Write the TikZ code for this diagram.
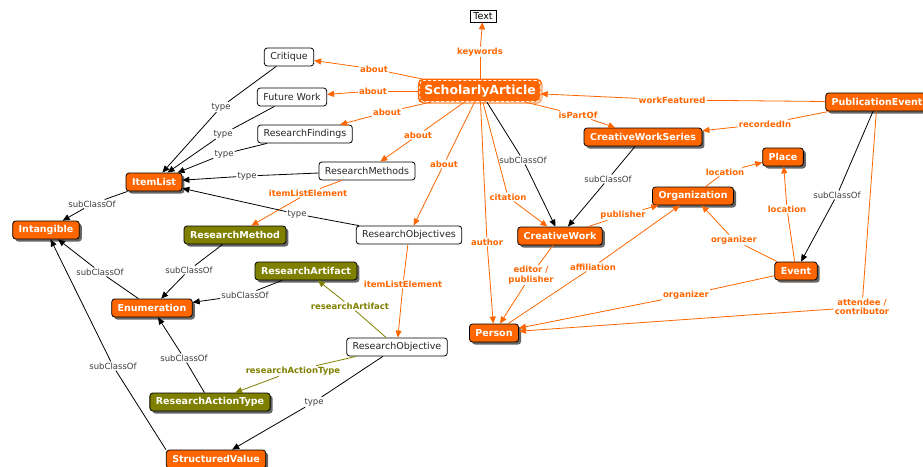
\documentclass[tikz,border=0pt]{standalone}
\usepackage{fontspec}
\setmainfont{DejaVu Sans}
\usepackage{tikz}
\usetikzlibrary{arrows.meta,shadows}

\definecolor{cmaporange}{RGB}{255,102,0}
\definecolor{cmapolive}{RGB}{128,128,0}
\definecolor{cmapgray}{RGB}{60,60,60}

\tikzset{
  concept/.style={rounded corners=3pt, draw=black, line width=0.8pt,
    inner xsep=6pt, inner ysep=2pt, minimum height=18pt,
    font=\fontsize{9.5}{11}\selectfont},
  plain/.style={concept, fill=white, text=black!85},
  hot/.style={concept, fill=cmaporange, text=white,
    font=\fontsize{9.5}{11}\selectfont\bfseries,
    drop shadow={shadow xshift=2.5pt, shadow yshift=-2.5pt, fill=black!60, opacity=1}},
  olive/.style={hot, fill=cmapolive},
  textbox/.style={draw=black, line width=0.7pt, fill=white, inner xsep=3.5pt,
    inner ysep=1pt, minimum height=12pt, font=\fontsize{9.5}{11}\selectfont},
  mainbox/.style={rounded corners=4pt, fill=cmaporange, text=white,
    draw=white, line width=0.8pt, dash pattern=on 3pt off 2pt,
    preaction={draw=cmaporange, solid, line width=4pt},
    drop shadow={shadow xshift=2pt, shadow yshift=-2pt, fill=cmaporange!45, opacity=1},
    inner xsep=4.5pt, inner ysep=2pt, minimum height=21pt,
    font=\fontsize{12.5}{14}\selectfont\bfseries},
  % linking phrases
  olab/.style={text=cmaporange, inner sep=1pt, align=center,
    font=\fontsize{8.5}{9.5}\selectfont\bfseries},
  glab/.style={olab, text=cmapolive},
  klab/.style={text=cmapgray, inner sep=1pt, font=\fontsize{8.5}{9.5}\selectfont},
  olink/.style={draw=cmaporange, line width=0.8pt},
  glink/.style={draw=cmapolive, line width=0.8pt},
  klink/.style={draw=black, line width=0.8pt},
  >={Triangle[length=7pt,width=6pt]}
}

\begin{document}
\begin{tikzpicture}[x=1pt,y=-1pt]
\useasboundingbox (0,0) rectangle (923,466);

% The concepts of the map, each one
% at its own place on the page.
% Orange ones are schema.org types,
% olive ones are the research types,
% white ones are plain instances.
\node[mainbox] (sart) at (480,91) {ScholarlyArticle};
\node[textbox] (txt) at (483,16) {Text};
\node[plain] (crit) at (289,57) {Critique};
\node[plain] (fwork) at (292,97) {Future Work};
\node[plain] (rfind) at (305,134) {ResearchFindings};
\node[plain] (rmeths) at (367,171) {ResearchMethods};
\node[plain] (robjs) at (409,235) {ResearchObjectives};
\node[plain] (robj) at (397,347) {ResearchObjective};
\node[hot] (ilist) at (154,182) {ItemList};
\node[hot] (intang) at (46,230) {Intangible};
\node[olive] (rmeth) at (235,235) {ResearchMethod};
\node[olive] (rart) at (306,271) {ResearchArtifact};
\node[hot] (enum) at (152,308) {Enumeration};
\node[olive] (ratype) at (210,402) {ResearchActionType};
\node[hot] (sval) at (216,459) {StructuredValue};
\node[hot] (cws) at (643,137) {CreativeWorkSeries};
\node[hot] (cw) at (560,236) {CreativeWork};
\node[hot] (org) at (693,196) {Organization};
\node[hot] (place) at (783,157) {Place};
\node[hot] (pubev) at (877,102) {PublicationEvent};
\node[hot] (event) at (796,271) {Event};
\node[hot] (person) at (494,333) {Person};

% The linking phrases sit between
% the two concepts they join
\node[olab] (l-kw) at (480,52) {keywords};
\node[olab] (l-ab1) at (374,69) {about};
\node[olab] (l-ab2) at (373,91) {about};
\node[olab] (l-ab3) at (387,112) {about};
\node[olab] (l-ab4) at (418,135) {about};
\node[olab] (l-ab5) at (444,164) {about};
\node[olab] (l-auth) at (487,242) {author};
\node[olab] (l-cit) at (508,197) {citation};
\node[olab] (l-part) at (578,115) {isPartOf};
\node[olab] (l-feat) at (672,100) {workFeatured};
\node[olab] (l-rec) at (765,124) {recordedIn};
\node[olab] (l-att) at (862,307) {attendee /\\contributor};
\node[olab] (l-loc1) at (725,172) {location};
\node[olab] (l-loc2) at (787,209) {location};
\node[olab] (l-pub) at (623,215) {publisher};
\node[olab] (l-aff) at (593,267) {affiliation};
\node[olab] (l-edit) at (531,275) {editor /\\publisher};
\node[olab] (l-org1) at (734,240) {organizer};
\node[olab] (l-org2) at (686,295) {organizer};
\node[olab] (l-ile1) at (308,193) {itemListElement};
\node[olab] (l-ile2) at (403,284) {itemListElement};
\node[glab] (l-rart) at (350,306) {researchArtifact};
\node[glab] (l-ratype) at (293,371) {researchActionType};
\node[klab] (l-ty1) at (221,107) {type};
\node[klab] (l-ty2) at (223,134) {type};
\node[klab] (l-ty3) at (224,154) {type};
\node[klab] (l-ty4) at (247,176) {type};
\node[klab] (l-ty5) at (297,214) {type};
\node[klab] (l-ty6) at (314,402) {type};
\node[klab] (l-sub1) at (523,160) {subClassOf};
\node[klab] (l-sub2) at (837,195) {subClassOf};
\node[klab] (l-sub3) at (608,179) {subClassOf};
\node[klab] (l-sub4) at (92,204) {subClassOf};
\node[klab] (l-sub5) at (100,272) {subClassOf};
\node[klab] (l-sub6) at (113,366) {subClassOf};
\node[klab] (l-sub7) at (189,270) {subClassOf};
\node[klab] (l-sub8) at (245,295) {subClassOf};
\node[klab] (l-sub9) at (184,358) {subClassOf};

% source -- phrase, then phrase -> target
\foreach \a/\b/\c in {sart/l-kw/txt, sart/l-ab1/crit, sart/l-ab2/fwork,
    sart/l-ab3/rfind, sart/l-ab4/rmeths, sart/l-ab5/robjs,
    sart/l-auth/person, sart/l-cit/cw, sart/l-part/cws,
    pubev/l-feat/sart, pubev/l-rec/cws, pubev/l-att/person,
    org/l-loc1/place, event/l-loc2/place, cw/l-pub/org,
    person/l-aff/org, cw/l-edit/person, event/l-org1/org,
    event/l-org2/person, rmeths/l-ile1/rmeth, robjs/l-ile2/robj}
  {\draw[olink] (\a) -- (\b);
   \draw[olink,->] (\b) -- (\c);}
\foreach \a/\b/\c in {robj/l-rart/rart, robj/l-ratype/ratype}
  {\draw[glink] (\a) -- (\b);
   \draw[glink,->] (\b) -- (\c);}
\foreach \a/\b/\c in {crit/l-ty1/ilist, fwork/l-ty2/ilist, rfind/l-ty3/ilist,
    rmeths/l-ty4/ilist, robjs/l-ty5/ilist, robj/l-ty6/sval,
    sart/l-sub1/cw, pubev/l-sub2/event, cws/l-sub3/cw,
    ilist/l-sub4/intang, enum/l-sub5/intang, sval.north west/l-sub6/intang,
    rmeth/l-sub7/enum, rart/l-sub8/enum, ratype/l-sub9/enum}
  {\draw[klink] (\a) -- (\b);
   \draw[klink,->] (\b) -- (\c);}
\end{tikzpicture}
\end{document}
